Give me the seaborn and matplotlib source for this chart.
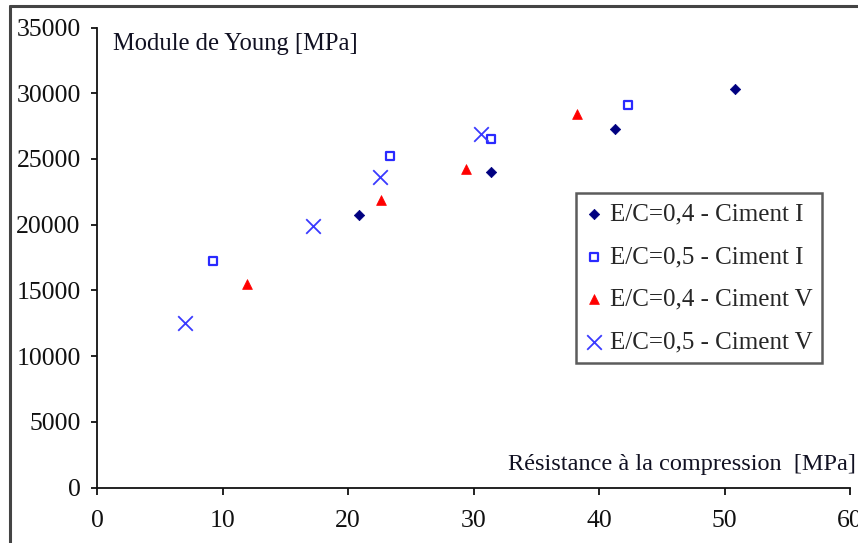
import matplotlib
matplotlib.use("Agg")
import matplotlib.pyplot as plt
from matplotlib.lines import Line2D
import pandas as pd
import seaborn as sns

# Compressive strength [MPa] and Young's modulus [MPa] per mix
ec04_c1_x = [20.9, 31.4, 41.3, 50.8]
ec04_c1_y = [20700, 24000, 27300, 30300]

ec05_c1_x = [9.2, 23.3, 31.4, 42.3]
ec05_c1_y = [17200, 25200, 26500, 29100]

ec04_c5_x = [11.9, 22.6, 29.4, 38.2]
ec04_c5_y = [15500, 21900, 24200, 28400]

ec05_c5_x = [7.0, 17.2, 22.5, 30.6]
ec05_c5_y = [12500, 19900, 23600, 26900]

series_labels = [
    "E/C=0,4 - Ciment I",
    "E/C=0,5 - Ciment I",
    "E/C=0,4 - Ciment V",
    "E/C=0,5 - Ciment V",
]

x_ticks = [0, 10, 20, 30, 40, 50, 60]
y_ticks = [0, 5000, 10000, 15000, 20000, 25000, 30000, 35000]

sns.set_theme(style="ticks")
plt.rcParams["font.family"] = ["Liberation Serif", "DejaVu Serif"]
plt.rcParams["font.size"] = 18

fig = plt.figure(figsize=(8.58, 5.43), dpi=100)
W, H = 858, 543
ax = fig.add_axes([97.3 / W, (H - 487.5) / H, (850 - 97.3) / W, (487.5 - 27.5) / H])

frames = [
    (ec04_c1_x, ec04_c1_y, series_labels[0]),
    (ec05_c1_x, ec05_c1_y, series_labels[1]),
    (ec04_c5_x, ec04_c5_y, series_labels[2]),
    (ec05_c5_x, ec05_c5_y, series_labels[3]),
]
styles = [
    dict(marker="D", s=28, color="#000080", edgecolor="#000080", linewidth=0.5),
    dict(marker="s", s=30, facecolor="white", edgecolor="#2a2aff", linewidth=1.6),
    dict(marker="^", s=50, color="#ff0000", edgecolor="#ff0000", linewidth=0.5),
    dict(marker="x", s=110, color="#3a3aff", linewidth=1.3),
]
for (xs, ys, lab), st in zip(frames, styles):
    df = pd.DataFrame({"resistance": xs, "module": ys})
    sns.scatterplot(data=df, x="resistance", y="module", label=lab, ax=ax, **st)

ax.set_xlim(0, 60)
ax.set_ylim(0, 35000)
ax.set_xticks(x_ticks)
ax.set_yticks(y_ticks)
ax.set_xlabel("")
ax.set_ylabel("")
sns.despine(ax=ax)
for side in ("left", "bottom"):
    ax.spines[side].set_linewidth(1.3)
    ax.spines[side].set_color("#111111")
ax.tick_params(axis="x", direction="out", length=5, width=1.3, pad=11,
               labelsize=18.5, colors="#111111")
ax.tick_params(axis="y", direction="out", length=4, width=1.3, pad=8,
               labelsize=18.5, colors="#111111")

ax.text(0.021, 0.964, "Module de Young [MPa]", transform=ax.transAxes,
        ha="left", va="center", fontsize=17.7, color="#111122")
ax.text(1.008, 0.051, "Résistance à la compression  [MPa]", transform=ax.transAxes,
        ha="right", va="center", fontsize=17.5, color="#111122", clip_on=False)

leg = ax.legend(loc="upper left", bbox_to_anchor=(0.636, 0.640), borderaxespad=0,
                frameon=True, fancybox=False, fontsize=18, handlelength=0.6,
                handletextpad=0.35, labelspacing=0.8, borderpad=0.4,
                markerscale=1.0)
leg.get_frame().set_edgecolor("#333333")
leg.get_frame().set_linewidth(1.8)

# Outer chart border (left and top edges)
fig.add_artist(Line2D([10 / W, 10 / W], [(H - 6) / H, -0.01], transform=fig.transFigure,
                      color="#444444", linewidth=2.2))
fig.add_artist(Line2D([10 / W, 1.01], [(H - 6) / H, (H - 6) / H], transform=fig.transFigure,
                      color="#444444", linewidth=2.2))

fig.savefig("out.png", dpi=100)
